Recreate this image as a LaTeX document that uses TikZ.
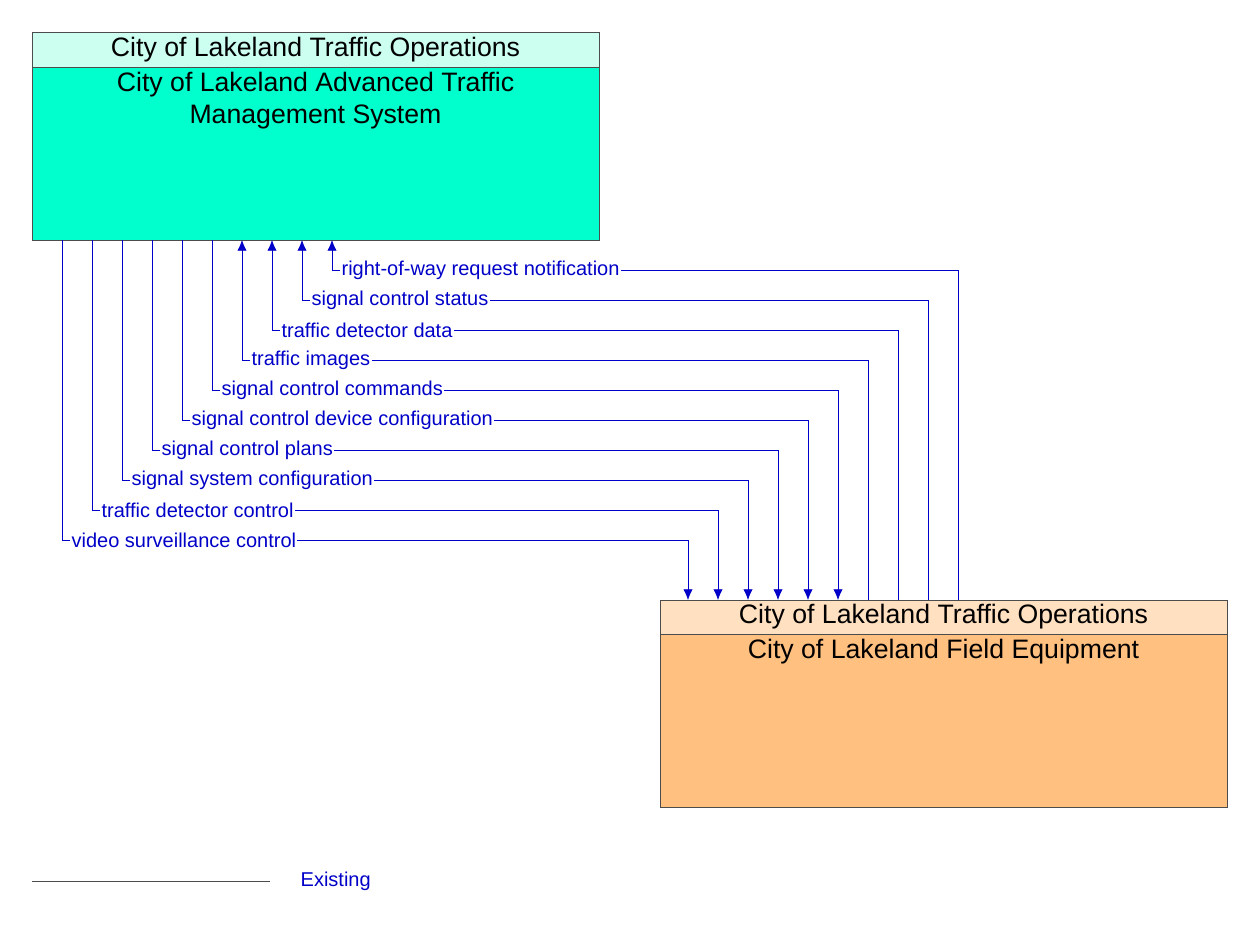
\documentclass[tikz,border=0pt]{standalone}
\usepackage{fontspec}
\setmainfont{Liberation Sans}
\usetikzlibrary{arrows.meta}
\definecolor{flow}{RGB}{0,0,200}
\definecolor{atmsfill}{RGB}{0,255,204}
\definecolor{atmshead}{RGB}{204,255,240}
\definecolor{fieldfill}{RGB}{255,192,128}
\definecolor{fieldhead}{RGB}{255,224,192}
\tikzset{
  flowline/.style={draw=flow, line width=0.6pt},
  flowlabel/.style={anchor=west, fill=white, text=flow, inner sep=1pt, font=\fontsize{15}{18}\selectfont},
  boxtitle/.style={font=\fontsize{20}{24}\selectfont, align=center}
}
\begin{document}
\begin{tikzpicture}[x=0.75pt,y=-0.75pt]
    \useasboundingbox (0,0) rectangle (1252,927);

    % boxes
    \filldraw[fill=atmsfill, draw=black!70] (32,32) rectangle (599,240);
    \filldraw[fill=atmshead, draw=black!70] (32,32) rectangle (599,67);
    \node[boxtitle] (ah) at (315.5,49.5) {City of Lakeland Traffic Operations};
    \node[boxtitle, anchor=north] (a) at (315.5,67) {City of Lakeland Advanced Traffic\\Management System};

    \filldraw[fill=fieldfill, draw=black!70] (660,600) rectangle (1227,807);
    \filldraw[fill=fieldhead, draw=black!70] (660,600) rectangle (1227,634);
    \node[boxtitle] (bh) at (943.5,617) {City of Lakeland Traffic Operations};
    \node[boxtitle, anchor=north] (b) at (943.5,634) {City of Lakeland Field Equipment};

    % flows up to the ATMS
    \foreach \xa/\y/\xb/\txt [count=\i] in {
        332/270/958/right-of-way request notification,
        302/300/928/signal control status,
        272/330/898/traffic detector data,
        242/360/868/traffic images} {
      \coordinate (u\i) at (\xa,240);
      \coordinate (v\i) at (\xb,600);
      \draw[flowline, -{Latex[length=8pt,width=7pt]}] (v\i) |- (\xa,\y) -- (u\i);
      \node[flowlabel] (ul\i) at (\xa+8,\y) {\txt};
    }

    % flows down to the field equipment
    \foreach \xa/\y/\xb/\txt [count=\i] in {
        212/390/838/signal control commands,
        182/420/808/signal control device configuration,
        152/450/778/signal control plans,
        122/480/748/signal system configuration,
        92/510/718/traffic detector control,
        62/540/688/video surveillance control} {
      \coordinate (s\i) at (\xa,240);
      \coordinate (e\i) at (\xb,600);
      \draw[flowline, -{Latex[length=8pt,width=7pt]}] (s\i) |- (\xb,\y) -- (e\i);
      \node[flowlabel] (dl\i) at (\xa+8,\y) {\txt};
    }

    % legend
    \coordinate (l1) at (32,881);
    \coordinate (l2) at (270,881);
    \draw[black!70, line width=0.6pt] (l1) -- (l2);
    \node[text=flow, anchor=west, font=\fontsize{15}{18}\selectfont] (ex) at (296,881) {Existing};
\end{tikzpicture}
\end{document}
